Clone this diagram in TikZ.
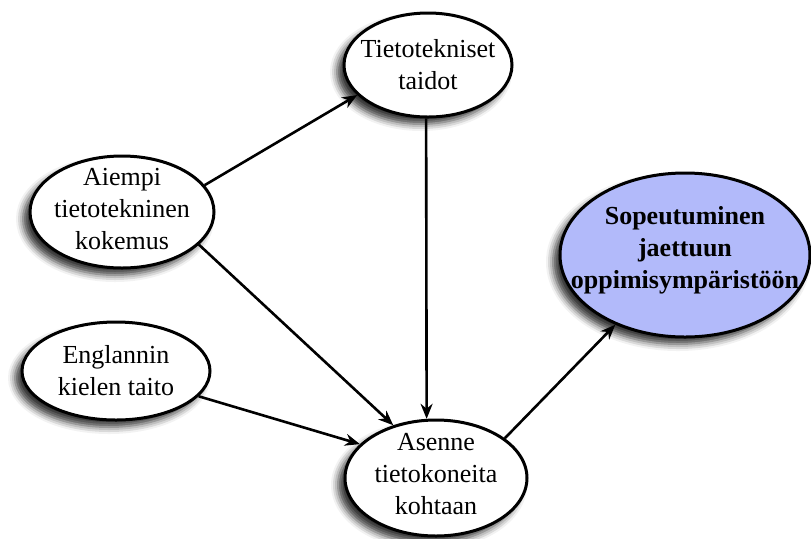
\documentclass[tikz,border=0pt]{standalone}
\usepackage{fontspec}
\setmainfont{Liberation Serif}
\usetikzlibrary{shapes.geometric,shadows.blur,arrows.meta}
\definecolor{goalblue}{RGB}{178,186,250}
\tikzset{
    bubble/.style={ellipse, draw, line width=1.5pt, fill=white, inner sep=0pt,
        blur shadow={shadow xshift=-3.5pt, shadow yshift=-3.5pt, shadow opacity=80, shadow blur radius=3.5pt}},
    arr/.style={-{Stealth[length=7.5pt,width=6pt]}, line width=1.3pt},
    every label/.style={align=center, font=\fontsize{13}{16}\selectfont}
}
\begin{document}
\begin{tikzpicture}[x=0.5pt,y=-0.5pt]
        \useasboundingbox (0,0) rectangle (811,538);
        \node[bubble, minimum width=84pt, minimum height=52pt, label=center:Tietotekniset\\taidot] (tieto) at (428,65) {};
        \node[bubble, minimum width=92pt, minimum height=56pt, label={[yshift=1.5pt]center:Aiempi\\tietotekninen\\kokemus}] (aiempi) at (122,212) {};
        \node[bubble, minimum width=94pt, minimum height=49pt, label=center:Englannin\\kielen taito] (englanti) at (116,371) {};
        \node[bubble, minimum width=91pt, minimum height=58pt, label={[yshift=2pt]center:Asenne\\tietokoneita\\kohtaan}] (asenne) at (436,478) {};
        \node[bubble, fill=goalblue, minimum width=125pt, minimum height=82pt,
            label={[yshift=2.5pt, font=\fontsize{13}{16}\selectfont\bfseries]center:Sopeutuminen\\jaettuun\\oppimisympäristöön}] (sopeutuminen) at (685,255) {};
        \draw[arr] (aiempi.18) -- (tieto.203);
        \draw[arr] (aiempi.337) -- (asenne.129);
        \draw[arr] (tieto.268) -- (asenne.99);
        \draw[arr] (englanti.343) -- (asenne.156);
        \draw[arr] (asenne.30) -- (sopeutuminen.225);
    \end{tikzpicture}
\end{document}
